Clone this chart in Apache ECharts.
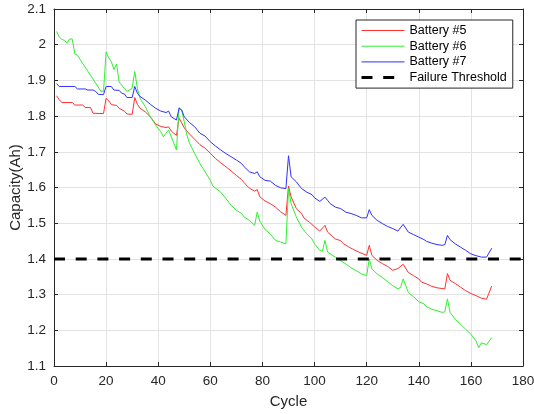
<!DOCTYPE html>
<html>
<head>
<meta charset="utf-8">
<script src="https://cdn.jsdelivr.net/npm/echarts@6/dist/echarts.min.js"></script>
<style>
  html, body { margin: 0; padding: 0; background: #fff; }
  #chart { width: 534px; height: 414px; }
</style>
</head>
<body>
<div id="chart"></div>
<script>
// capacity per cycle: [cycle, Ah]
var battery5 = [[1,1.857],[2,1.846],[3,1.838],[7,1.838],[8,1.831],[11,1.831],[12,1.824],[14,1.824],[15,1.808],[19,1.807],[20,1.850],[21,1.843],[22,1.832],[24,1.830],[25,1.822],[27,1.814],[28,1.806],[30,1.805],[31,1.852],[32,1.833],[33,1.822],[35,1.812],[37,1.798],[39,1.778],[41,1.771],[43,1.768],[44,1.770],[45,1.758],[47,1.746],[48,1.794],[49,1.781],[50,1.767],[52,1.750],[54,1.735],[56,1.720],[58,1.710],[60,1.696],[62,1.681],[64,1.669],[66,1.658],[68,1.646],[70,1.634],[72,1.622],[73,1.613],[75,1.598],[77,1.590],[78,1.594],[79,1.574],[81,1.562],[83,1.555],[85,1.545],[87,1.532],[89,1.522],[90,1.604],[91,1.574],[93,1.541],[95,1.527],[96,1.514],[98,1.503],[100,1.490],[102,1.478],[104,1.494],[105,1.475],[107,1.462],[108,1.456],[110,1.451],[111,1.443],[113,1.434],[115,1.426],[117,1.419],[120,1.410],[121,1.438],[122,1.410],[124,1.396],[126,1.387],[128,1.379],[130,1.368],[132,1.373],[134,1.385],[136,1.362],[138,1.353],[140,1.344],[141,1.335],[143,1.330],[145,1.323],[147,1.319],[150,1.316],[151,1.359],[152,1.340],[154,1.331],[156,1.321],[158,1.311],[160,1.303],[162,1.297],[164,1.290],[166,1.287],[168,1.324]];
var battery6 = [[1,2.037],[2,2.022],[3,2.015],[4,2.012],[5,2.005],[6,2.016],[7,2.016],[8,1.974],[9,1.970],[18,1.870],[19,1.869],[20,1.980],[21,1.963],[22,1.953],[23,1.930],[24,1.946],[25,1.895],[27,1.878],[28,1.869],[30,1.878],[31,1.925],[32,1.878],[33,1.850],[35,1.827],[37,1.798],[39,1.775],[41,1.756],[42,1.742],[43,1.752],[44,1.761],[46,1.724],[47,1.705],[48,1.824],[49,1.817],[50,1.784],[51,1.747],[52,1.724],[54,1.695],[56,1.667],[58,1.644],[60,1.620],[61,1.604],[64,1.587],[66,1.569],[68,1.550],[70,1.536],[72,1.527],[73,1.517],[75,1.508],[77,1.494],[78,1.531],[79,1.506],[81,1.482],[83,1.470],[85,1.452],[87,1.447],[89,1.442],[90,1.597],[91,1.555],[93,1.517],[95,1.489],[97,1.470],[99,1.456],[100,1.442],[102,1.424],[103,1.421],[104,1.452],[105,1.419],[106,1.414],[108,1.405],[110,1.395],[112,1.386],[114,1.375],[116,1.367],[118,1.358],[120,1.353],[121,1.400],[122,1.372],[124,1.358],[126,1.348],[128,1.337],[130,1.325],[132,1.316],[133,1.320],[134,1.344],[136,1.306],[138,1.294],[140,1.280],[142,1.274],[143,1.266],[145,1.259],[147,1.255],[149,1.250],[150,1.252],[151,1.288],[152,1.250],[154,1.231],[156,1.217],[158,1.203],[160,1.189],[162,1.170],[163,1.151],[164,1.165],[166,1.160],[168,1.180]];
var battery7 = [[1,1.891],[2,1.883],[8,1.883],[9,1.876],[12,1.876],[13,1.873],[15,1.873],[16,1.869],[17,1.861],[19,1.860],[20,1.883],[22,1.883],[23,1.873],[25,1.872],[26,1.864],[27,1.862],[28,1.852],[30,1.852],[31,1.883],[32,1.864],[33,1.855],[35,1.845],[37,1.833],[39,1.822],[41,1.814],[43,1.810],[44,1.814],[45,1.798],[47,1.789],[48,1.822],[49,1.817],[50,1.798],[52,1.782],[54,1.770],[56,1.752],[58,1.744],[60,1.728],[62,1.716],[64,1.705],[66,1.695],[68,1.686],[70,1.677],[72,1.667],[73,1.658],[75,1.644],[77,1.639],[78,1.644],[79,1.630],[81,1.620],[83,1.618],[85,1.606],[87,1.599],[89,1.597],[90,1.689],[91,1.630],[93,1.616],[95,1.597],[97,1.587],[99,1.580],[100,1.571],[102,1.561],[104,1.573],[105,1.564],[106,1.555],[108,1.545],[110,1.541],[112,1.531],[114,1.527],[116,1.522],[118,1.515],[120,1.515],[121,1.538],[122,1.522],[124,1.508],[126,1.499],[128,1.491],[130,1.485],[132,1.478],[134,1.497],[136,1.475],[138,1.468],[140,1.461],[142,1.454],[143,1.449],[145,1.444],[147,1.440],[149,1.438],[150,1.440],[151,1.466],[152,1.454],[154,1.442],[156,1.433],[158,1.424],[160,1.414],[162,1.409],[164,1.405],[166,1.405],[168,1.430]];
var threshold = [[0,1.4],[180,1.4]];
var seriesNames = ['Battery #5', 'Battery #6', 'Battery #7', 'Failure Threshold'];
var seriesColors = ['#ff3030', '#30f030', '#3030ff', '#000000'];

var chart = echarts.init(document.getElementById('chart'));
var font = 'Liberation Sans, Arial, sans-serif';
var ink = '#262626';

// box axes (top/right) like matlab "box on"
function boxAxis(pos, isX) {
  return {
    type: 'value', position: pos, min: isX ? 0 : 1.1, max: isX ? 180 : 2.1,
    interval: isX ? 20 : 0.1,
    axisLine: { show: true, onZero: false, lineStyle: { color: ink, width: 1 } },
    axisTick: { show: true, inside: true, length: 4, lineStyle: { color: ink } },
    axisLabel: { show: false },
    splitLine: { show: false }
  };
}

var legendItems = seriesNames.map(function (n, i) {
  return { name: n, lineStyle: { width: i === 3 ? 3 : 1 } };
});

var option = {
  animation: false,
  backgroundColor: '#fff',
  grid: { left: 54, right: 11, top: 9, bottom: 48, outerBoundsMode: 'none', containLabel: false },
  legend: {
    data: legendItems,
    orient: 'vertical',
    left: 356, top: 20,
    itemWidth: 43, itemHeight: 14, itemGap: 2.7,
    padding: [4, 6, 4, 4],
    borderColor: ink, borderWidth: 1,
    backgroundColor: '#fff',
    itemStyle: { opacity: 0 },
    textStyle: { fontFamily: font, fontSize: 12.5, color: '#000' }
  },
  xAxis: [{
    type: 'value', min: 0, max: 180, interval: 20,
    name: 'Cycle', nameLocation: 'middle', nameGap: 28, nameMoveOverlap: false,
    nameTextStyle: { fontFamily: font, fontSize: 15, color: ink },
    axisLine: { onZero: false, lineStyle: { color: ink } },
    axisTick: { inside: true, length: 4, lineStyle: { color: ink } },
    axisLabel: { fontFamily: font, fontSize: 13.5, color: ink, margin: 8 },
    splitLine: { show: true, lineStyle: { color: '#e3e3e3' } }
  }, boxAxis('top', true)],
  yAxis: [{
    type: 'value', min: 1.1, max: 2.1, interval: 0.1,
    name: 'Capacity(Ah)', nameLocation: 'middle', nameGap: 31, nameMoveOverlap: false,
    nameTextStyle: { fontFamily: font, fontSize: 15, color: ink },
    axisLine: { show: true, onZero: false, lineStyle: { color: ink } },
    axisTick: { show: true, inside: true, length: 4, lineStyle: { color: ink } },
    axisLabel: {
      fontFamily: font, fontSize: 13.5, color: ink, margin: 8,
      formatter: function (v) { return (+v.toFixed(1)).toString(); }
    },
    splitLine: { show: true, lineStyle: { color: '#e3e3e3' } }
  }, boxAxis('right', false)],
  series: [
    { name: seriesNames[0], type: 'line', data: battery5, symbol: 'none',
      lineStyle: { color: seriesColors[0], width: 1 }, itemStyle: { color: seriesColors[0] } },
    { name: seriesNames[1], type: 'line', data: battery6, symbol: 'none',
      lineStyle: { color: seriesColors[1], width: 1 }, itemStyle: { color: seriesColors[1] } },
    { name: seriesNames[2], type: 'line', data: battery7, symbol: 'none',
      lineStyle: { color: seriesColors[2], width: 1 }, itemStyle: { color: seriesColors[2] } },
    { name: seriesNames[3], type: 'line', data: threshold, symbol: 'none',
      lineStyle: { color: seriesColors[3], width: 3, type: [11, 10.7] }, itemStyle: { color: seriesColors[3] } }
  ]
};
chart.setOption(option);
</script>
</body>
</html>
